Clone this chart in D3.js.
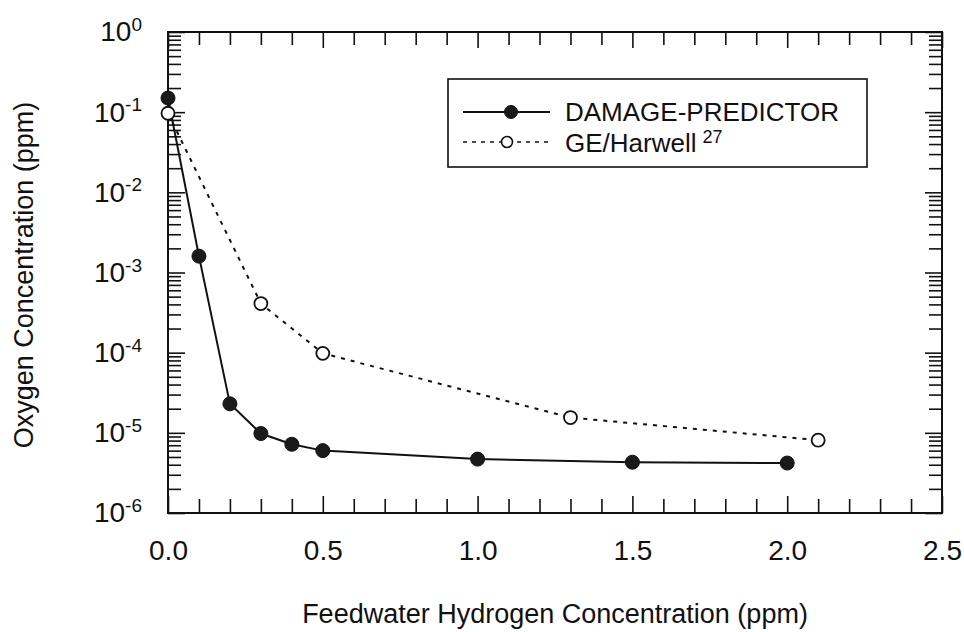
<!DOCTYPE html>
<html>
<head>
<meta charset="utf-8">
<script src="https://cdn.jsdelivr.net/npm/d3@7"></script>
<style>
  html, body { margin: 0; padding: 0; background: #fff; }
  svg { display: block; }
  text { font-family: "Liberation Sans", Arial, Helvetica, sans-serif; fill: #111; }
</style>
</head>
<body>
<svg id="chart" width="964" height="632"></svg>
<script>
// Feedwater hydrogen concentration (ppm) vs. oxygen concentration (ppm)
const dpX = [0.0, 0.1, 0.2, 0.3, 0.4, 0.5, 1.0, 1.5, 2.0];
const dpY = [0.15, 1.6e-3, 2.3e-5, 9.8e-6, 7.2e-6, 6.0e-6, 4.7e-6, 4.3e-6, 4.2e-6];

const geX = [0.0, 0.3, 0.5, 1.3, 2.1];
const geY = [0.097, 4.1e-4, 9.8e-5, 1.55e-5, 8.1e-6];

const xMajorTicks = [0.0, 0.5, 1.0, 1.5, 2.0, 2.5];
const yDecades = [0, -1, -2, -3, -4, -5, -6];

const seriesNames = ["DAMAGE-PREDICTOR", "GE/Harwell"];
const geRef = "27";
const xTitle = "Feedwater Hydrogen Concentration (ppm)";
const yTitle = "Oxygen Concentration (ppm)";

const svg = d3.select("#chart");
const plotL = 168, plotR = 942, plotT = 32, plotB = 513;
const ink = "#111";
const fontStack = '"Liberation Sans", Arial, Helvetica, sans-serif';

const x = d3.scaleLinear().domain([0, 2.5]).range([plotL, plotR]);
const y = d3.scaleLog().domain([1e-6, 1]).range([plotB, plotT]);

// tick positions
const xMinor = d3.range(0, 26).map(i => i / 10).filter(v => !xMajorTicks.some(m => Math.abs(m - v) < 1e-9));
const yMajor = yDecades.map(e => Math.pow(10, e));
const yMinor = [];
for (let e = -6; e < 0; e++) for (let m = 2; m <= 9; m++) yMinor.push(m * Math.pow(10, e));

function styleAxis(g) {
  g.select(".domain").remove();
  g.selectAll(".tick line").attr("stroke", ink).attr("stroke-width", 1.6);
}

// bottom axis (ticks point inward)
svg.append("g").attr("transform", `translate(0,${plotB})`)
  .call(d3.axisBottom(x).tickValues(xMinor).tickSize(-14).tickFormat(""))
  .call(styleAxis);
const xAxisMajor = svg.append("g").attr("transform", `translate(0,${plotB})`)
  .call(d3.axisBottom(x).tickValues(xMajorTicks).tickSize(-17).tickPadding(27).tickFormat(d3.format(".1f")))
  .call(styleAxis);
xAxisMajor.selectAll(".tick text").attr("font-size", 28).attr("fill", ink)
  .style("font-family", fontStack);

// top axis (mirror)
svg.append("g").attr("transform", `translate(0,${plotT})`)
  .call(d3.axisTop(x).tickValues(xMinor).tickSize(-13).tickFormat(""))
  .call(styleAxis);
svg.append("g").attr("transform", `translate(0,${plotT})`)
  .call(d3.axisTop(x).tickValues(xMajorTicks).tickSize(-16).tickFormat(""))
  .call(styleAxis);

// left axis
svg.append("g").attr("transform", `translate(${plotL},0)`)
  .call(d3.axisLeft(y).tickValues(yMinor).tickSize(-13).tickFormat(""))
  .call(styleAxis);
const yAxisMajor = svg.append("g").attr("transform", `translate(${plotL},0)`)
  .call(d3.axisLeft(y).tickValues(yMajor).tickSize(-17).tickPadding(26).tickFormat(""))
  .call(styleAxis);
yAxisMajor.selectAll(".tick text").each(function(d) {
  const t = d3.select(this)
    .attr("font-size", 28).attr("fill", ink)
    .style("font-family", fontStack);
  t.text(null);
  t.append("tspan").text("10");
  t.append("tspan").attr("font-size", 19).attr("dy", "-0.55em").text(String(Math.round(Math.log10(d))));
});

// right axis (mirror)
svg.append("g").attr("transform", `translate(${plotR},0)`)
  .call(d3.axisRight(y).tickValues(yMinor).tickSize(-13).tickFormat(""))
  .call(styleAxis);
svg.append("g").attr("transform", `translate(${plotR},0)`)
  .call(d3.axisRight(y).tickValues(yMajor).tickSize(-17).tickFormat(""))
  .call(styleAxis);

// frame
svg.append("rect")
  .attr("x", plotL).attr("y", plotT)
  .attr("width", plotR - plotL).attr("height", plotB - plotT)
  .attr("fill", "none").attr("stroke", ink).attr("stroke-width", 2);

// series lines
const line = d3.line().x(d => x(d[0])).y(d => y(d[1]));
const dp = dpX.map((v, i) => [v, dpY[i]]);
const ge = geX.map((v, i) => [v, geY[i]]);

svg.append("path").datum(ge).attr("d", line)
  .attr("fill", "none").attr("stroke", ink).attr("stroke-width", 2)
  .attr("stroke-dasharray", "4,6");
svg.append("path").datum(dp).attr("d", line)
  .attr("fill", "none").attr("stroke", ink).attr("stroke-width", 2);

svg.append("g").selectAll("circle").data(ge).join("circle")
  .attr("cx", d => x(d[0])).attr("cy", d => y(d[1])).attr("r", 6.5)
  .attr("fill", "#fff").attr("stroke", ink).attr("stroke-width", 1.8);
svg.append("g").selectAll("circle").data(dp).join("circle")
  .attr("cx", d => x(d[0])).attr("cy", d => y(d[1])).attr("r", 7)
  .attr("fill", "#1a1a1a").attr("stroke", ink).attr("stroke-width", 1);

// legend
const lg = svg.append("g");
lg.append("rect").attr("x", 448).attr("y", 79).attr("width", 419).attr("height", 88)
  .attr("fill", "#fff").attr("stroke", ink).attr("stroke-width", 1.6);
lg.append("line").attr("x1", 463).attr("x2", 550).attr("y1", 112).attr("y2", 112)
  .attr("stroke", ink).attr("stroke-width", 2);
lg.append("circle").attr("cx", 511).attr("cy", 112).attr("r", 6.5).attr("fill", "#1a1a1a").attr("stroke", ink);
lg.append("text").attr("x", 565).attr("y", 112).attr("dy", "0.36em").attr("font-size", 26)
  .text(seriesNames[0]);
lg.append("line").attr("x1", 463).attr("x2", 550).attr("y1", 142).attr("y2", 142)
  .attr("stroke", ink).attr("stroke-width", 1.6).attr("stroke-dasharray", "4,5");
lg.append("circle").attr("cx", 507).attr("cy", 142).attr("r", 5.5).attr("fill", "#fff")
  .attr("stroke", ink).attr("stroke-width", 1.6);
const geLabel = lg.append("text").attr("x", 565).attr("y", 143).attr("dy", "0.36em").attr("font-size", 26);
geLabel.append("tspan").text(seriesNames[1]);
geLabel.append("tspan").attr("font-size", 18).attr("dx", 6).attr("dy", "-0.5em").text(geRef);

// axis titles
svg.append("text").attr("x", (plotL + plotR) / 2).attr("y", 623)
  .attr("text-anchor", "middle").attr("font-size", 27).text(xTitle);
svg.append("text").attr("transform", `translate(33,275) rotate(-90)`)
  .attr("text-anchor", "middle").attr("font-size", 27).text(yTitle);
</script>
</body>
</html>
